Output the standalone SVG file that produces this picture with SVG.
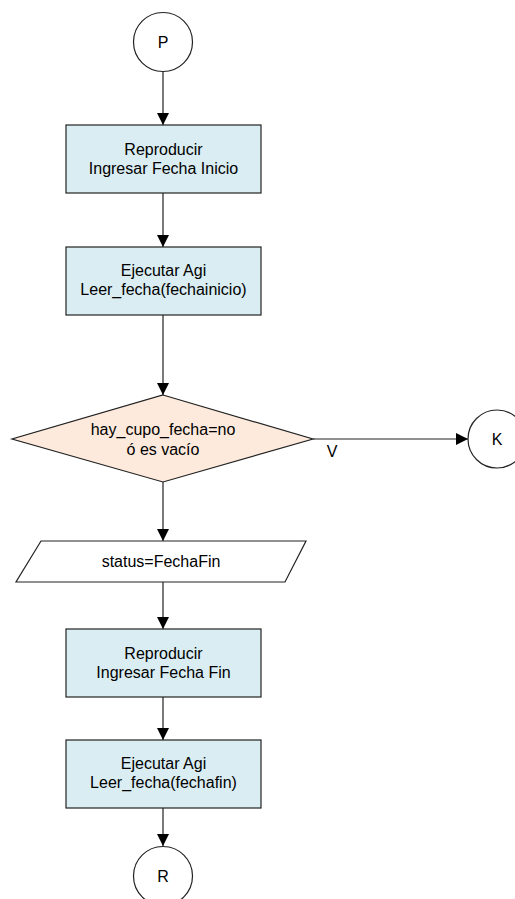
<svg xmlns="http://www.w3.org/2000/svg" width="515" height="899" viewBox="0 0 515 899">
<defs>
<style>
.t{font-family:"Liberation Sans",Arial,sans-serif;font-size:16px;fill:#000;text-anchor:middle}
.box{fill:#daedf2;stroke:#222;stroke-width:1.2}
.dia{fill:#fdeadc;stroke:#222;stroke-width:1.2}
.io{fill:#fff;stroke:#222;stroke-width:1.2}
.conn{fill:#fff;stroke:#222;stroke-width:1.2}
.e{fill:none;stroke:#222;stroke-width:1.2;marker-end:url(#ah)}
</style>
<marker id="ah" markerWidth="12" markerHeight="12" viewBox="0 0 12 12" refX="12" refY="6" orient="auto" markerUnits="userSpaceOnUse">
<path d="M0,0 L12,6 L0,12 Z" fill="#000"/>
</marker>
</defs>
<rect width="515" height="899" fill="#fff"/>
<g id="connectors">
<line class="e" x1="163" y1="71.5" x2="163" y2="125"/>
<line class="e" x1="163" y1="193" x2="163" y2="247"/>
<line class="e" x1="163" y1="315" x2="163" y2="395"/>
<line class="e" x1="313" y1="439" x2="468" y2="439"/>
<line class="e" x1="163" y1="482" x2="163" y2="541"/>
<line class="e" x1="163" y1="582" x2="163" y2="629"/>
<line class="e" x1="163" y1="697" x2="163" y2="740"/>
<line class="e" x1="163" y1="808" x2="163" y2="846"/>
<text class="t" x="332" y="457">V</text>
</g>
<g id="P">
<circle class="conn" cx="163" cy="42" r="29.5"/>
<text class="t" x="163" y="48">P</text>
</g>
<g id="box1">
<rect class="box" x="66" y="125" width="195" height="68"/>
<text class="t" x="163.5" y="155">Reproducir</text>
<text class="t" x="163.5" y="174">Ingresar Fecha Inicio</text>
</g>
<g id="box2">
<rect class="box" x="66" y="247" width="195" height="68"/>
<text class="t" x="163.5" y="276">Ejecutar Agi</text>
<text class="t" x="163.5" y="295">Leer_fecha(fechainicio)</text>
</g>
<g id="decision">
<polygon class="dia" points="163,395 313,439 163,482 12,439"/>
<text class="t" x="163" y="435">hay_cupo_fecha=no</text>
<text class="t" x="163" y="455">ó es vacío</text>
</g>
<g id="K">
<circle class="conn" cx="497" cy="439" r="29"/>
<text class="t" x="497" y="445">K</text>
</g>
<g id="status">
<polygon class="io" points="41,541 306,541 285,582 16,582"/>
<text class="t" x="161" y="567">status=FechaFin</text>
</g>
<g id="box3">
<rect class="box" x="66" y="629" width="195" height="68"/>
<text class="t" x="163.5" y="659">Reproducir</text>
<text class="t" x="163.5" y="678">Ingresar Fecha Fin</text>
</g>
<g id="box4">
<rect class="box" x="66" y="740" width="195" height="68"/>
<text class="t" x="163.5" y="769">Ejecutar Agi</text>
<text class="t" x="163.5" y="788">Leer_fecha(fechafin)</text>
</g>
<g id="R">
<circle class="conn" cx="163" cy="876" r="29.5"/>
<text class="t" x="163" y="882">R</text>
</g>
</svg>
